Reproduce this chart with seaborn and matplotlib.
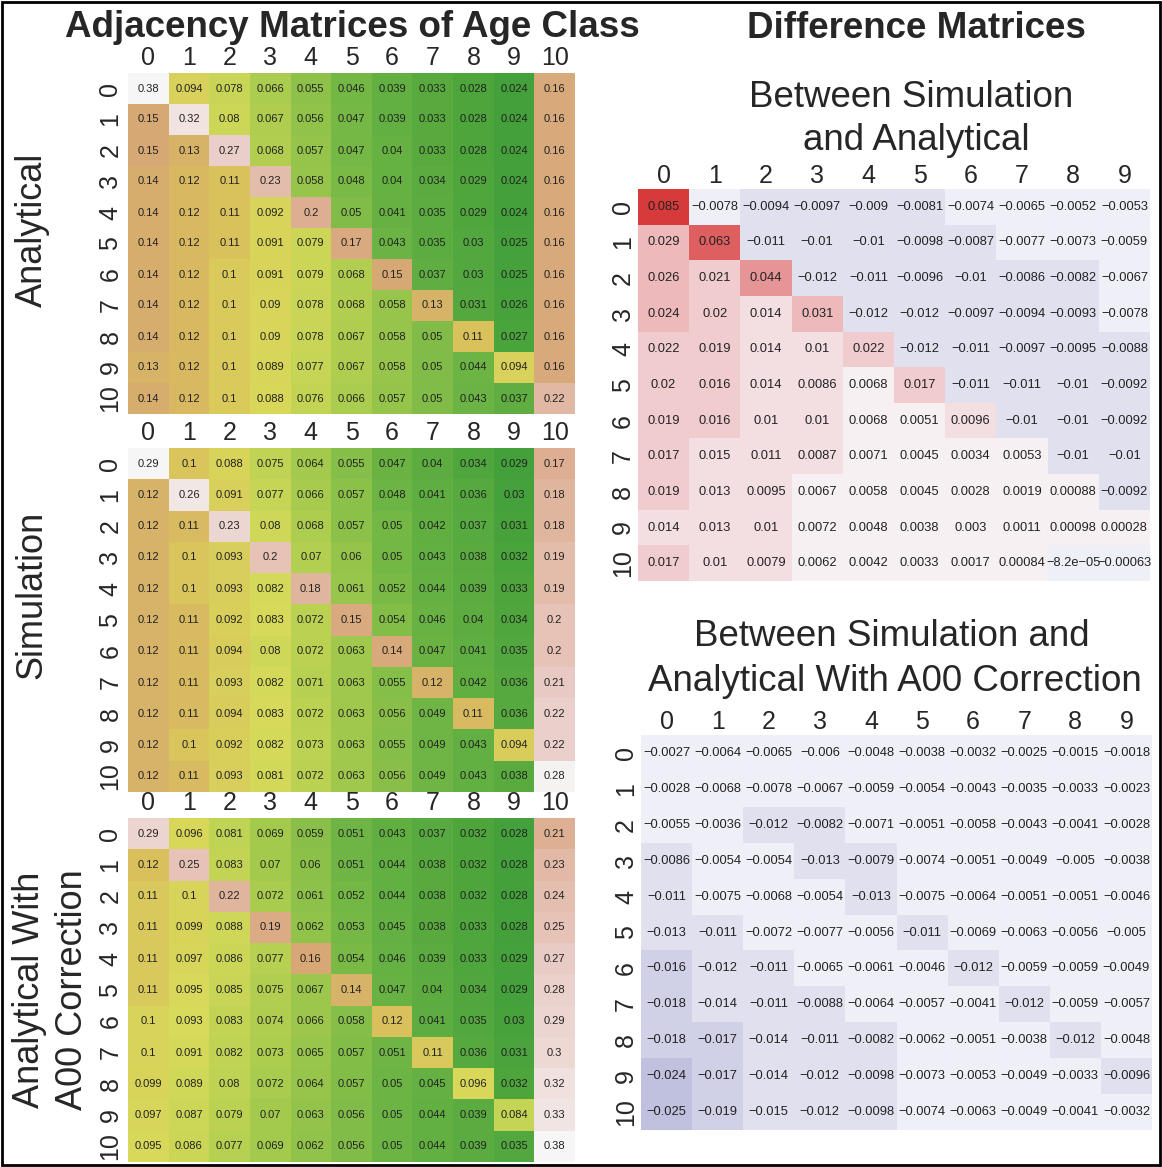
import numpy as np
import matplotlib
matplotlib.use("Agg")
import matplotlib.pyplot as plt
from matplotlib.colors import LinearSegmentedColormap, LogNorm, BoundaryNorm
from matplotlib.patches import Rectangle
import seaborn as sns

# ---------------- data ----------------
age_classes = [str(i) for i in range(11)]
diff_cols = [str(i) for i in range(10)]

analytical = [
    [0.38, 0.094, 0.078, 0.066, 0.055, 0.046, 0.039, 0.033, 0.028, 0.024, 0.16],
    [0.15, 0.32, 0.08, 0.067, 0.056, 0.047, 0.039, 0.033, 0.028, 0.024, 0.16],
    [0.15, 0.13, 0.27, 0.068, 0.057, 0.047, 0.04, 0.033, 0.028, 0.024, 0.16],
    [0.14, 0.12, 0.11, 0.23, 0.058, 0.048, 0.04, 0.034, 0.029, 0.024, 0.16],
    [0.14, 0.12, 0.11, 0.092, 0.2, 0.05, 0.041, 0.035, 0.029, 0.024, 0.16],
    [0.14, 0.12, 0.11, 0.091, 0.079, 0.17, 0.043, 0.035, 0.03, 0.025, 0.16],
    [0.14, 0.12, 0.1, 0.091, 0.079, 0.068, 0.15, 0.037, 0.03, 0.025, 0.16],
    [0.14, 0.12, 0.1, 0.09, 0.078, 0.068, 0.058, 0.13, 0.031, 0.026, 0.16],
    [0.14, 0.12, 0.1, 0.09, 0.078, 0.067, 0.058, 0.05, 0.11, 0.027, 0.16],
    [0.13, 0.12, 0.1, 0.089, 0.077, 0.067, 0.058, 0.05, 0.044, 0.094, 0.16],
    [0.14, 0.12, 0.1, 0.088, 0.076, 0.066, 0.057, 0.05, 0.043, 0.037, 0.22],
]

simulation = [
    [0.29, 0.1, 0.088, 0.075, 0.064, 0.055, 0.047, 0.04, 0.034, 0.029, 0.17],
    [0.12, 0.26, 0.091, 0.077, 0.066, 0.057, 0.048, 0.041, 0.036, 0.03, 0.18],
    [0.12, 0.11, 0.23, 0.08, 0.068, 0.057, 0.05, 0.042, 0.037, 0.031, 0.18],
    [0.12, 0.1, 0.093, 0.2, 0.07, 0.06, 0.05, 0.043, 0.038, 0.032, 0.19],
    [0.12, 0.1, 0.093, 0.082, 0.18, 0.061, 0.052, 0.044, 0.039, 0.033, 0.19],
    [0.12, 0.11, 0.092, 0.083, 0.072, 0.15, 0.054, 0.046, 0.04, 0.034, 0.2],
    [0.12, 0.11, 0.094, 0.08, 0.072, 0.063, 0.14, 0.047, 0.041, 0.035, 0.2],
    [0.12, 0.11, 0.093, 0.082, 0.071, 0.063, 0.055, 0.12, 0.042, 0.036, 0.21],
    [0.12, 0.11, 0.094, 0.083, 0.072, 0.063, 0.056, 0.049, 0.11, 0.036, 0.22],
    [0.12, 0.1, 0.092, 0.082, 0.073, 0.063, 0.055, 0.049, 0.043, 0.094, 0.22],
    [0.12, 0.11, 0.093, 0.081, 0.072, 0.063, 0.056, 0.049, 0.043, 0.038, 0.28],
]

analytical_a00 = [
    [0.29, 0.096, 0.081, 0.069, 0.059, 0.051, 0.043, 0.037, 0.032, 0.028, 0.21],
    [0.12, 0.25, 0.083, 0.07, 0.06, 0.051, 0.044, 0.038, 0.032, 0.028, 0.23],
    [0.11, 0.1, 0.22, 0.072, 0.061, 0.052, 0.044, 0.038, 0.032, 0.028, 0.24],
    [0.11, 0.099, 0.088, 0.19, 0.062, 0.053, 0.045, 0.038, 0.033, 0.028, 0.25],
    [0.11, 0.097, 0.086, 0.077, 0.16, 0.054, 0.046, 0.039, 0.033, 0.029, 0.27],
    [0.11, 0.095, 0.085, 0.075, 0.067, 0.14, 0.047, 0.04, 0.034, 0.029, 0.28],
    [0.1, 0.093, 0.083, 0.074, 0.066, 0.058, 0.12, 0.041, 0.035, 0.03, 0.29],
    [0.1, 0.091, 0.082, 0.073, 0.065, 0.057, 0.051, 0.11, 0.036, 0.031, 0.3],
    [0.099, 0.089, 0.08, 0.072, 0.064, 0.057, 0.05, 0.045, 0.096, 0.032, 0.32],
    [0.097, 0.087, 0.079, 0.07, 0.063, 0.056, 0.05, 0.044, 0.039, 0.084, 0.33],
    [0.095, 0.086, 0.077, 0.069, 0.062, 0.056, 0.05, 0.044, 0.039, 0.035, 0.38],
]

diff_sim_analytical = [
    [0.085, -0.0078, -0.0094, -0.0097, -0.009, -0.0081, -0.0074, -0.0065, -0.0052, -0.0053],
    [0.029, 0.063, -0.011, -0.01, -0.01, -0.0098, -0.0087, -0.0077, -0.0073, -0.0059],
    [0.026, 0.021, 0.044, -0.012, -0.011, -0.0096, -0.01, -0.0086, -0.0082, -0.0067],
    [0.024, 0.02, 0.014, 0.031, -0.012, -0.012, -0.0097, -0.0094, -0.0093, -0.0078],
    [0.022, 0.019, 0.014, 0.01, 0.022, -0.012, -0.011, -0.0097, -0.0095, -0.0088],
    [0.02, 0.016, 0.014, 0.0086, 0.0068, 0.017, -0.011, -0.011, -0.01, -0.0092],
    [0.019, 0.016, 0.01, 0.01, 0.0068, 0.0051, 0.0096, -0.01, -0.01, -0.0092],
    [0.017, 0.015, 0.011, 0.0087, 0.0071, 0.0045, 0.0034, 0.0053, -0.01, -0.01],
    [0.019, 0.013, 0.0095, 0.0067, 0.0058, 0.0045, 0.0028, 0.0019, 0.00088, -0.0092],
    [0.014, 0.013, 0.01, 0.0072, 0.0048, 0.0038, 0.003, 0.0011, 0.00098, 0.00028],
    [0.017, 0.01, 0.0079, 0.0062, 0.0042, 0.0033, 0.0017, 0.00084, -8.2e-05, -0.00063],
]

diff_sim_analytical_a00 = [
    [-0.0027, -0.0064, -0.0065, -0.006, -0.0048, -0.0038, -0.0032, -0.0025, -0.0015, -0.0018],
    [-0.0028, -0.0068, -0.0078, -0.0067, -0.0059, -0.0054, -0.0043, -0.0035, -0.0033, -0.0023],
    [-0.0055, -0.0036, -0.012, -0.0082, -0.0071, -0.0051, -0.0058, -0.0043, -0.0041, -0.0028],
    [-0.0086, -0.0054, -0.0054, -0.013, -0.0079, -0.0074, -0.0051, -0.0049, -0.005, -0.0038],
    [-0.011, -0.0075, -0.0068, -0.0054, -0.013, -0.0075, -0.0064, -0.0051, -0.0051, -0.0046],
    [-0.013, -0.011, -0.0072, -0.0077, -0.0056, -0.011, -0.0069, -0.0063, -0.0056, -0.005],
    [-0.016, -0.012, -0.011, -0.0065, -0.0061, -0.0046, -0.012, -0.0059, -0.0059, -0.0049],
    [-0.018, -0.014, -0.011, -0.0088, -0.0064, -0.0057, -0.0041, -0.012, -0.0059, -0.0057],
    [-0.018, -0.017, -0.014, -0.011, -0.0082, -0.0062, -0.0051, -0.0038, -0.012, -0.0048],
    [-0.024, -0.017, -0.014, -0.012, -0.0098, -0.0073, -0.0053, -0.0049, -0.0033, -0.0096],
    [-0.025, -0.019, -0.015, -0.012, -0.0098, -0.0074, -0.0063, -0.0049, -0.0041, -0.0032],
]

# ---------------- style ----------------
sns.set_style("white")
plt.rcParams['font.family'] = ['Liberation Sans', 'DejaVu Sans']

W_PX, H_PX = 1162, 1167
fig = plt.figure(figsize=(W_PX / 100, H_PX / 100), dpi=100)


def box(x0, y0, x1, y1):
    return [x0 / W_PX, 1 - y1 / H_PX, (x1 - x0) / W_PX, (y1 - y0) / H_PX]


terrain = LinearSegmentedColormap.from_list("terrain_muted", [
    (0.00, "#43a03a"),
    (0.22, "#6cb444"),
    (0.36, "#a9cc4e"),
    (0.46, "#d8da5a"),
    (0.56, "#d9bf5c"),
    (0.66, "#d6a873"),
    (0.76, "#dcac8c"),
    (0.86, "#e8c8c2"),
    (1.00, "#f6f6f6"),
])

diverge = LinearSegmentedColormap.from_list("diff", [
    (0.0, "#5050a8"), (0.5, "#f8f8fb"), (1.0, "#d63a3a")])

tick_fs = 18

left_boxes = [(128, 73, 575, 414), (128, 448, 575, 792), (128, 818, 575, 1162)]
for data, bx in zip([analytical, simulation, analytical_a00], left_boxes):
    arr = np.array(data)
    ax = fig.add_axes(box(*bx))
    sns.heatmap(arr, ax=ax, cmap=terrain,
                norm=LogNorm(vmin=arr.min(), vmax=arr.max()),
                annot=True, fmt=".2g",
                annot_kws={"size": 8, "color": "#222222"},
                cbar=False, xticklabels=age_classes, yticklabels=age_classes)
    ax.xaxis.tick_top()
    ax.tick_params(axis="both", length=0, labelsize=tick_fs)
    ax.tick_params(axis="x", pad=2)
    ax.tick_params(axis="y", pad=4)
    plt.setp(ax.get_xticklabels(), rotation=0)
    plt.setp(ax.get_yticklabels(), rotation=90, va="center")

diff_all = np.abs(np.array(diff_sim_analytical + diff_sim_analytical_a00))
step = diff_all.max() * 1.014 / 11
bounds = np.arange(-11, 12) * step
dnorm = BoundaryNorm(bounds, ncolors=256)


def label_strings(arr):
    return np.vectorize(lambda v: f"{v:.2g}".replace("-", "\u2212"))(arr)


right_boxes = [(638, 189, 1150, 581), (641, 735, 1152, 1130)]
for data, bx in zip([diff_sim_analytical, diff_sim_analytical_a00], right_boxes):
    arr = np.array(data)
    ax = fig.add_axes(box(*bx))
    sns.heatmap(arr, ax=ax, cmap=diverge, norm=dnorm,
                annot=label_strings(arr), fmt="",
                annot_kws={"size": 9.3, "color": "#222222"},
                cbar=False, xticklabels=diff_cols, yticklabels=age_classes)
    ax.xaxis.tick_top()
    ax.tick_params(axis="both", length=0, labelsize=tick_fs)
    ax.tick_params(axis="x", pad=1)
    ax.tick_params(axis="y", pad=2)
    plt.setp(ax.get_xticklabels(), rotation=0)
    plt.setp(ax.get_yticklabels(), rotation=90, va="center")

# ---------------- texts ----------------
def ftext(x, y, s, **kw):
    fig.text(x / W_PX, 1 - y / H_PX, s, **kw)

ftext(352, 37, "Adjacency Matrices of Age Class", ha="center", va="baseline",
      fontsize=26.5, fontweight="bold")
ftext(916, 38, "Difference Matrices", ha="center", va="baseline",
      fontsize=26.5, fontweight="bold")

sub_fs = 26.5
ftext(911, 107, "Between Simulation", ha="center", va="baseline", fontsize=sub_fs)
ftext(916, 150, "and Analytical", ha="center", va="baseline", fontsize=sub_fs)
ftext(892, 646, "Between Simulation and", ha="center", va="baseline", fontsize=sub_fs)
ftext(895, 691, "Analytical With A00 Correction", ha="center", va="baseline", fontsize=sub_fs)

ftext(32, 230, "Analytical", rotation=90, ha="center", va="center", fontsize=26)
ftext(32, 595, "Simulation", rotation=90, ha="center", va="center", fontsize=26)
ftext(30, 990, "Analytical With", rotation=90, ha="center", va="center", fontsize=26)
ftext(73, 990, "A00 Correction", rotation=90, ha="center", va="center", fontsize=26)

fig.add_artist(Rectangle((2 / W_PX, 2 / H_PX), 1 - 4 / W_PX, 1 - 4 / H_PX,
                         transform=fig.transFigure, fill=False, lw=2, ec="black"))

fig.savefig("out.png", dpi=100)
